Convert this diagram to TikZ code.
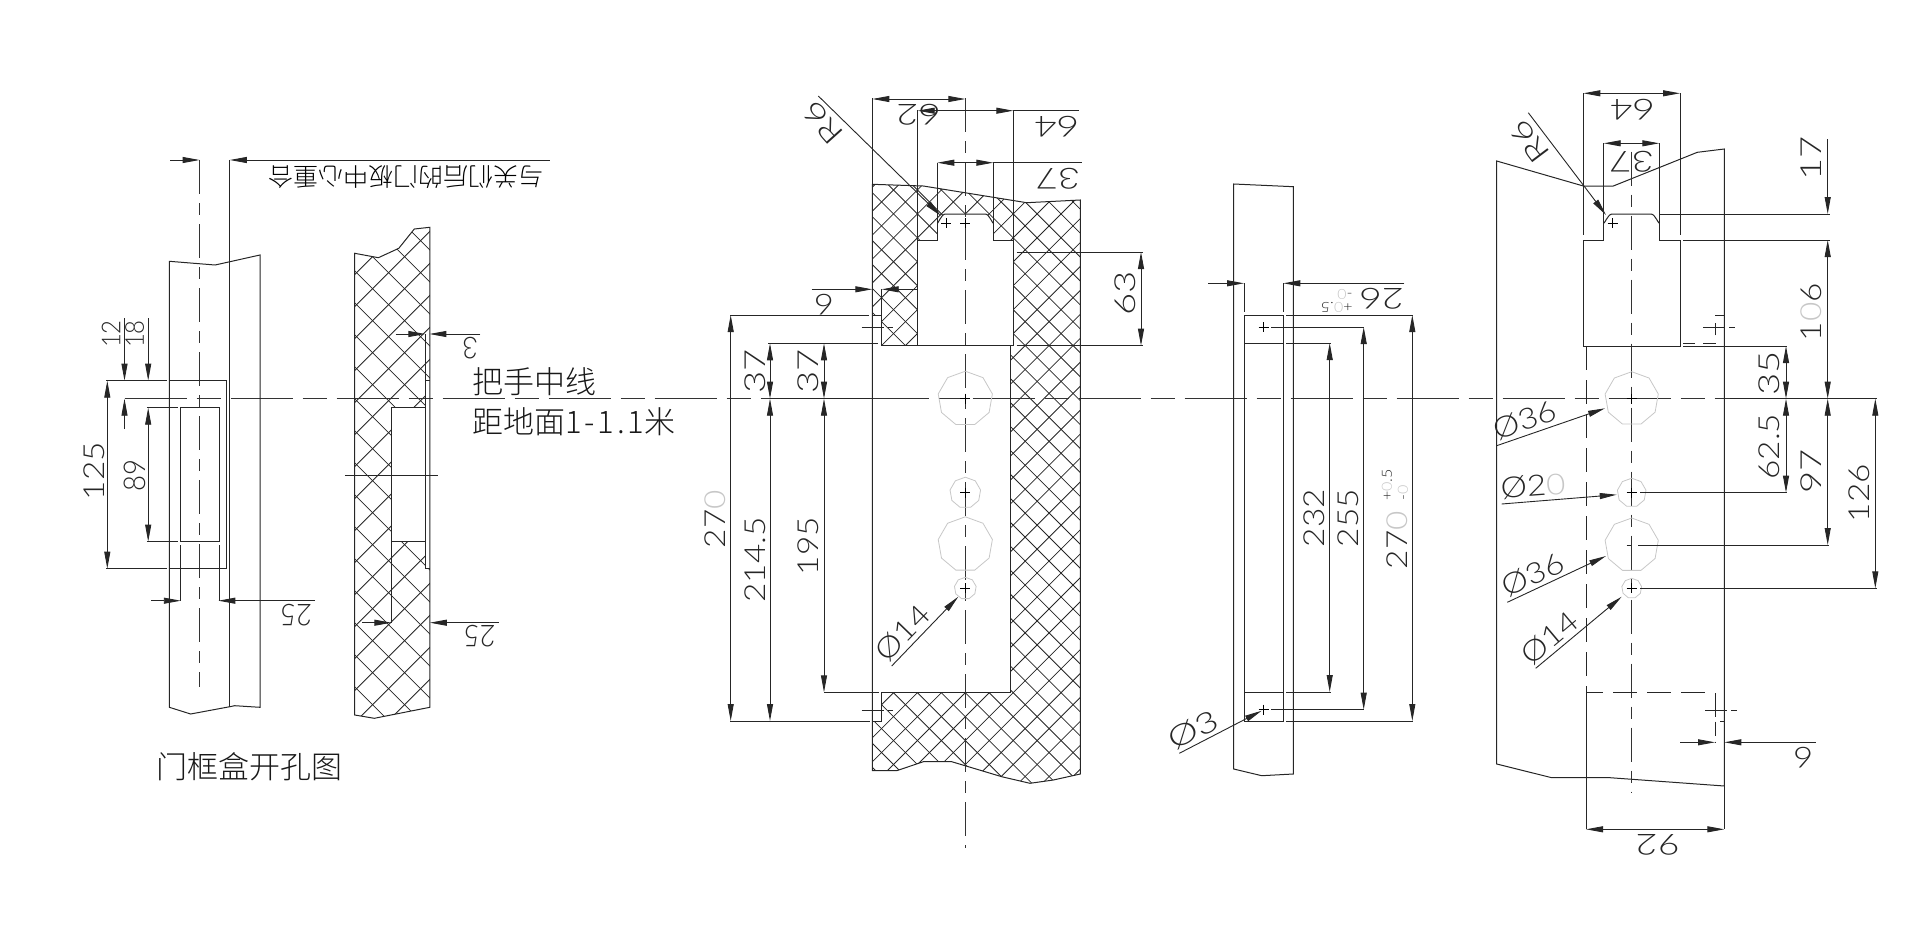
\documentclass[tikz,border=0pt]{standalone}
\usepackage{fontspec}
\usepackage{tikz}
\usetikzlibrary{arrows.meta, shapes.geometric}
\newfontfamily\cadfont[FakeStretch=1.15]{Lato Light}
\newfontfamily\cadwide[FakeStretch=1.32]{Lato Light}
\newfontfamily\cadslim[FakeStretch=0.92]{Lato Light}
\newfontfamily\cjk{Noto Sans CJK SC Light}
\definecolor{ghost}{gray}{0.78}
\tikzset{
  part/.style={line width=1pt, draw=black!85},
  hatchline/.style={line width=0.8pt, draw=black!85},
  axis/.style={line width=1pt, draw=black!80, dash pattern=on 34pt off 9pt on 12pt off 9pt},
  hidden/.style={line width=1pt, draw=black!85, dash pattern=on 24pt off 10pt},
  dimline/.style={line width=0.9pt, draw=black!85},
  dimboth/.style={dimline, {Triangle[length=17pt,width=6pt]}-{Triangle[length=17pt,width=6pt]}},
  dimend/.style={dimline, -{Triangle[length=17pt,width=6pt]}},
  hole/.style={regular polygon, regular polygon sides=9, draw=ghost, line width=0.8pt, inner sep=0pt},
  dimtext/.style={font=\cadfont\fontsize{29}{29}\selectfont, inner sep=0pt, text=black!85},
  dimwide/.style={font=\cadwide\fontsize{29}{29}\selectfont, inner sep=0pt, text=black!85},
  dimslimtext/.style={font=\cadslim\fontsize{30}{30}\selectfont, inner sep=0pt, text=black!85},
  dimsmall/.style={font=\cadfont\fontsize{14}{14}\selectfont, inner sep=0pt, text=black!85},
  note/.style={font=\cjk\fontsize{31}{32}\selectfont, inner sep=0pt, anchor=west, text=black!90},
}
\newcommand{\mk}[2]{\draw[line width=0.9pt] (#1-5,#2) -- (#1+5,#2) (#1,#2-5) -- (#1,#2+5);}
\begin{document}
\begin{tikzpicture}[x=1pt,y=-1pt]
  \useasboundingbox (0,0) rectangle (1920,937);
  % view B hatch
  \begin{scope}
    \clip (354.7,253.3) -- (378.4,257.7) -- (398.8,248.3) -- (414.3,229) -- (429.8,227.3) -- (429.8,707.3) -- (374.3,718.3) -- (354.7,715) -- cycle;
    \foreach \d in {-211.9,-179.9,...,370} \draw[hatchline] (340,{340+(\d)}) -- (440,{440+(\d)});
    \foreach \s in {565.3,597.3,...,1155} \draw[hatchline] (340,{\s-340}) -- (440,{\s-440});
    \fill[white] (391.4,407.7) rectangle (425.3,541.7);
    \fill[white] (425.3,380.7) rectangle (431,568.7);
  \end{scope}
  % view C hatch
  \begin{scope}
    \clip (872.3,184.3) -- (923.3,186) -- (1026.7,202.7) -- (1080.3,200) -- (1080.3,774) -- (1053.3,780) -- (1030,783.3) -- (1001.7,776.7) -- (951.7,761.7) -- (923.3,761.7) -- (896.7,770.7) -- (872.3,770.7) -- cycle;
    \foreach \d in {81.08,105.02,...,900} \draw[hatchline] (800,800-\d) -- (1150,1150-\d);
    \foreach \s in {1035.56,1059.5,...,1870} \draw[hatchline] (800,\s-800) -- (1150,\s-1150);
  \end{scope}
  \fill[white] (872.3,315) -- (881.7,315) -- (881.7,345.7) -- (917.7,345.7) -- (917.7,240) -- (937.3,240) -- (937.3,222) to[out=-90,in=180] (945.3,214) -- (985.3,214) to[out=0,in=-90] (993.3,222) -- (993.3,240) -- (1013.3,240) -- (1013.3,345.7) -- (1010.7,345.7) -- (1010.7,692.3) -- (881.7,692.3) -- (881.7,721) -- (872.3,721) -- cycle;

  % main axis
  \draw[axis, dash pattern=on 62pt off 10pt on 24pt off 10pt] (124.5,398.7) -- (1877,398.7);

  % view A
  \draw[part] (169.4,261.3) -- (215.1,265) -- (260,255) -- (260,707.3) -- (234.7,705.7) -- (229.8,706.7) -- (190.6,714) -- (169.4,707.3) -- cycle;
  \draw[part] (229.8,160) -- (229.8,706.7);
  \draw[axis] (199.6,160) -- (199.6,686.7);
  \draw[part] (169.4,380.7) -- (226.5,380.7) -- (226.5,568.7) -- (169.4,568.7);
  \draw[part] (180.8,600.7) -- (180.8,545);
  \draw[part] (219.2,600.7) -- (219.2,545);
  \draw[part] (180.8,407.7) rectangle (219.2,541.7);
  \draw[dimline] (106.1,380.7) -- (166.9,380.7);
  \draw[dimline] (106.1,568.7) -- (166.9,568.7);
  \draw[dimline] (146.9,407.7) -- (177.6,407.7);
  \draw[dimline] (146.9,541.7) -- (177.6,541.7);
  \draw[dimend] (170.2,160) -- (199.6,160);
  \draw[dimend] (549.8,160) -- (229.8,160);
  \draw[dimboth] (107.3,380.7) -- (107.3,568.7);
  \draw[dimboth] (148.2,407.7) -- (148.2,541.7);
  \draw[dimend] (124.5,318) -- (124.5,380.7);
  \draw[dimend] (148.2,318) -- (148.2,380.7);
  \draw[dimend] (124.5,429) -- (124.5,398.7);
  \draw[dimend] (151,600.7) -- (180.8,600.7);
  \draw[dimend] (315.1,600.7) -- (218.4,600.7);
  \node[dimslimtext, rotate=90] (lblAtwelve) at (111,334) {\fontsize{26}{26}\selectfont 12};
  \node[dimslimtext, rotate=90] (lblAeighteen) at (134.7,334) {\fontsize{26}{26}\selectfont 18};
  \node[dimtext, rotate=90] (lblAoverall) at (94.7,471) {125};
  \node[dimslimtext, rotate=90] (lblAinner) at (134.7,475.7) {89};
  \node[dimslimtext, rotate=180] (lblAwidth) at (296,615) {25};
  \node[font=\cjk\fontsize{25}{26}\selectfont, inner sep=0pt, rotate=180] (lblAcentre) at (405.6,176.7) {与关们后的门板中心重合};
  \node[note] (lblAtitle) at (156,766.7) {门框盒开孔图};

  % view B
  \draw[part] (354.7,253.3) -- (378.4,257.7) -- (398.8,248.3) -- (414.3,229) -- (429.8,227.3) -- (429.8,707.3) -- (374.3,718.3) -- (354.7,715) -- cycle;
  \draw[part] (391.4,407.7) rectangle (425.3,541.7);
  \draw[part] (425.3,334) -- (425.3,568.7) -- (429.8,568.7);
  \draw[part] (425.3,380.7) -- (429.8,380.7);
  \draw[part] (391.4,541.7) -- (391.4,622.7);
  \draw[dimline] (344.9,475) -- (437.6,475);
  \draw[dimend] (395.5,334) -- (425.3,334);
  \draw[dimend] (480.4,334) -- (429.4,334);
  \draw[dimend] (362,622.7) -- (391.4,622.7);
  \draw[dimend] (498.8,622.7) -- (429.8,622.7);
  \node[dimslimtext, rotate=180] (lblBdepth) at (470.2,348) {3};
  \node[dimslimtext, rotate=180] (lblBwidth) at (479.6,636) {25};

  \node[note] (lblAxisA) at (472,381.7) {把手中线};
  \node[note] (lblAxisB) at (472,421.7) {距地面{\addfontfeature{LetterSpace=9}1-1.1}米};

  % view C
  \draw[part] (872.3,184.3) -- (923.3,186) -- (1026.7,202.7) -- (1080.3,200) -- (1080.3,774) -- (1053.3,780) -- (1030,783.3) -- (1001.7,776.7) -- (951.7,761.7) -- (923.3,761.7) -- (896.7,770.7) -- (872.3,770.7) -- cycle;
  \draw[part] (872.3,315) -- (881.7,315) -- (881.7,289.3);
  \draw[part] (881.7,315) -- (881.7,345.7) -- (917.7,345.7) -- (917.7,110);
  \draw[part] (917.7,240) -- (937.3,240) -- (937.3,162.7);
  \draw[part] (937.3,222) to[out=-90,in=180] (945.3,214) -- (985.3,214) to[out=0,in=-90] (993.3,222);
  \draw[part] (993.3,162.7) -- (993.3,240) -- (1013.3,240);
  \draw[part] (1013.3,110) -- (1013.3,345.7) -- (917.7,345.7);
  \draw[part] (1010.7,345.7) -- (1010.7,692.3) -- (881.7,692.3) -- (881.7,721) -- (872.3,721);
  \draw[part] (872.3,98.3) -- (872.3,184.3);
  \draw[axis] (965.3,98.3) -- (965.3,848.3);
  \draw[dimline, dash pattern=on 22pt off 4pt on 6pt off 4pt] (861.7,327.3) -- (893,327.3);
  \draw[dimline, dash pattern=on 22pt off 4pt on 6pt off 4pt] (861.7,710) -- (893,710);
  \node[hole, minimum size=55pt] (holeCa) at (965.3,398.7) {};
  \node[hole, minimum size=31pt] (holeCb) at (965.3,492.7) {};
  \node[hole, minimum size=55pt] (holeCc) at (965.3,544.3) {};
  \node[hole, minimum size=22pt] (holeCd) at (965.3,588.3) {};
  \mk{946}{223.3} \mk{965.3}{223.3} \mk{965.3}{398.7} \mk{965.3}{492.7} \mk{965.3}{588.3}
  \draw[dimboth] (872.3,99) -- (965.3,99);
  \draw[dimboth] (917.7,110.7) -- (1013.3,110.7);
  \draw[dimline] (1013.3,110.7) -- (1079,110.7);
  \draw[dimboth] (937.3,162.7) -- (993.3,162.7);
  \draw[dimline] (993.3,162.7) -- (1082,162.7);
  \draw[dimend] (818.3,96) -- (940.7,215.7);
  \draw[dimend] (811.7,289.3) -- (872.3,289.3);
  \draw[dimend] (916.7,289.3) -- (881.7,289.3);
  \draw[dimline] (730,315) -- (869.3,315);
  \draw[dimline] (768,343.3) -- (878.3,343.3);
  \draw[dimline] (770,398.7) -- (870,398.7);
  \draw[dimline] (730,721) -- (870,721);
  \draw[dimline] (824,692.3) -- (879,692.3);
  \draw[dimline] (1016.7,252) -- (1143,252);
  \draw[dimline] (1016.7,345.7) -- (1143,345.7);
  \draw[dimboth] (730.7,315) -- (730.7,721);
  \draw[dimboth] (770,343.3) -- (770,398.7);
  \draw[dimboth] (770,398.7) -- (770,721);
  \draw[dimboth] (824,343.3) -- (824,398.7);
  \draw[dimboth] (824,398.7) -- (824,692.3);
  \draw[dimboth] (1141,252) -- (1141,345.7);
  \draw[dimend] (891.7,666) -- (958.3,596.7);
  \node[dimwide, rotate=180] (lblCsixtytwo) at (918.3,115) {62};
  \node[dimwide, rotate=180] (lblCsixtyfour) at (1056.7,126.7) {64};
  \node[dimwide, rotate=180] (lblCthirtyseven) at (1058,179) {37};
  \node[dimwide, rotate=132] (lblCradius) at (823,123) {R6};
  \node[dimtext, rotate=180] (lblCnine) at (824,305) {6};
  \node[dimwide, rotate=90] (lblCreveala) at (755,371.7) {37};
  \node[dimwide, rotate=90] (lblCrevealb) at (808,371.7) {37};
  \node[dimtext, rotate=90] (lblCoverall) at (715,519) {27{\color{ghost}0}};
  \node[dimtext, rotate=90] (lblClower) at (755,560) {214.5};
  \node[dimtext, rotate=90] (lblCinner) at (808,546) {195};
  \node[dimwide, rotate=90] (lblCpocket) at (1125,293) {63};
  \node[dimtext, rotate=46] (lblChole) at (903,633) {Ø14};

  % view D
  \draw[part] (1233.7,184) -- (1293.3,186.7) -- (1293.3,774) -- (1261.7,775.7) -- (1233.7,769) -- cycle;
  \draw[part] (1244,283.3) -- (1244,311.7);
  \draw[part] (1283,283.3) -- (1283,311.7);
  \draw[part] (1244,315) rectangle (1283,721);
  \draw[part] (1244,343) -- (1283,343);
  \draw[part] (1244,692) -- (1283,692);
  \mk{1263.7}{327} \mk{1263.7}{709.7}
  \draw[dimline] (1286,315) -- (1413,315);
  \draw[dimline] (1286,343) -- (1330.7,343);
  \draw[dimline] (1271,327) -- (1364,327);
  \draw[dimline] (1271,709.7) -- (1364,709.7);
  \draw[dimline] (1286,692) -- (1330.7,692);
  \draw[dimline] (1286,721) -- (1413,721);
  \draw[dimend] (1208.3,283.3) -- (1244,283.3);
  \draw[dimend] (1404.3,283.3) -- (1283.3,283.3);
  \draw[dimboth] (1329.7,343) -- (1329.7,692);
  \draw[dimboth] (1363.7,327) -- (1363.7,709.7);
  \draw[dimboth] (1412.3,315) -- (1412.3,721);
  \draw[dimend] (1179.3,753.3) -- (1261.7,710.7);
  \node[dimwide, rotate=180] (lblDwidth) at (1381.7,299) {26};
  \node[dimsmall, rotate=180] (lblDtolm) at (1345,294) {-{\color{ghost}0}};
  \node[dimsmall, rotate=180] (lblDtolp) at (1336.7,307) {+{\color{ghost}0}.5};
  \node[dimtext, rotate=90] (lblDshort) at (1314.3,518.3) {232};
  \node[dimtext, rotate=90] (lblDmid) at (1348.3,518) {255};
  \node[dimtext, rotate=90] (lblDlong) at (1397.3,540) {27{\color{ghost}0}};
  \node[dimsmall, rotate=90] (lblDuptolp) at (1387,485) {+{\color{ghost}0}.5};
  \node[dimsmall, rotate=90] (lblDuptolm) at (1403,493) {-{\color{ghost}0}};
  \node[dimwide, rotate=27] (lblDhole) at (1193,730) {Ø3};

  % view E
  \draw[part] (1496.7,161) -- (1583.3,186) -- (1613.3,186) -- (1697.3,152.3) -- (1724.3,149) -- (1724.3,786) -- (1610,777.7) -- (1551.7,777.7) -- (1496.7,764) -- cycle;
  \draw[part] (1583.3,93.3) -- (1583.3,235);
  \draw[part] (1680,93.3) -- (1680,235);
  \draw[part] (1603.7,143.3) -- (1603.7,240) -- (1583.3,240) -- (1583.3,346) -- (1680,346) -- (1680,240) -- (1659.3,240) -- (1659.3,143.3);
  \draw[part] (1603.7,222) to[out=-90,in=180] (1612,214) -- (1651,214) to[out=0,in=-90] (1659.3,222);
  \draw[part] (1586,692.7) -- (1586,829.3);
  \draw[part] (1724.3,786) -- (1724.3,829.3);
  \draw[axis] (1631.7,151.7) -- (1631.7,793);
  \draw[hidden] (1586,346) -- (1586,692.7) -- (1715,692.7) -- (1715,721.7) -- (1724.3,721.7);
  \draw[hidden, dash pattern=on 14pt off 6pt] (1715,721.7) -- (1715,742.3);
  \draw[hidden, dash pattern=on 12pt off 8pt] (1683,343.3) -- (1715,343.3) -- (1715,315) -- (1724.3,315);
  \draw[dimline, dash pattern=on 22pt off 4pt on 6pt off 4pt] (1703.3,327.3) -- (1736,327.3);
  \draw[dimline, dash pattern=on 22pt off 4pt on 6pt off 4pt] (1705,710) -- (1736.7,710);
  \node[hole, minimum size=54pt] (holeEa) at (1631.7,398.7) {};
  \node[hole, minimum size=29pt] (holeEb) at (1631.7,492.7) {};
  \node[hole, minimum size=54pt] (holeEc) at (1631.7,545) {};
  \node[hole, minimum size=20pt] (holeEd) at (1631.7,588.3) {};
  \mk{1612.7}{223.3} \mk{1631.7}{398.7} \mk{1631.7}{492.7} \mk{1631.7}{588.3}
  \draw[dimline] (1683.3,240) -- (1830,240);
  \draw[dimline] (1659.3,214) -- (1830,214);
  \draw[dimline] (1683.3,346) -- (1786.7,346);
  \draw[dimline] (1730,398.7) -- (1877,398.7);
  \draw[dimline] (1640,492.7) -- (1786.7,492.7);
  \draw[dimline] (1626.7,545) -- (1631,545);
  \draw[dimline] (1638,545) -- (1829,545);
  \draw[dimline] (1640,588.3) -- (1876.7,588.3);
  \draw[dimboth] (1583.3,93.3) -- (1680,93.3);
  \draw[dimboth] (1603.7,143.3) -- (1659.3,143.3);
  \draw[dimboth] (1586,829.3) -- (1724.3,829.3);
  \draw[dimend] (1680,742.3) -- (1715,742.3);
  \draw[dimend] (1815.7,742.3) -- (1724.3,742.3);
  \draw[dimend] (1827.7,139.3) -- (1827.7,214);
  \draw[dimboth] (1827.7,240) -- (1827.7,398.7);
  \draw[dimboth] (1786,346) -- (1786,398.7);
  \draw[dimboth] (1786,398.7) -- (1786,492.7);
  \draw[dimboth] (1827.7,398.7) -- (1827.7,545);
  \draw[dimboth] (1875.3,398.7) -- (1875.3,588.3);
  \draw[dimend] (1528.3,112.7) -- (1606,215);
  \draw[dimend] (1496.7,445.7) -- (1605,408.3);
  \draw[dimend] (1501.7,504) -- (1616.7,494.7);
  \draw[dimend] (1507.3,602.3) -- (1606,556);
  \draw[dimend] (1535.7,668.3) -- (1621.7,596.7);
  \node[dimwide, rotate=180] (lblEtop) at (1632.3,110) {64};
  \node[dimwide, rotate=180] (lblEneck) at (1631.7,161.7) {37};
  \node[dimwide, rotate=127] (lblEradius) at (1530,141.7) {R6};
  \node[dimwide, rotate=90] (lblEseventeen) at (1811,158.3) {17};
  \node[dimtext, rotate=90] (lblEpocket) at (1811,312.3) {1{\color{ghost}0}6};
  \node[dimwide, rotate=90] (lblEreveal) at (1769.3,373.3) {35};
  \node[dimtext, rotate=90] (lblEfirst) at (1769.3,446.7) {62.5};
  \node[dimwide, rotate=90] (lblEsecond) at (1811,471.7) {97};
  \node[dimtext, rotate=90] (lblEthird) at (1859.3,493.3) {126};
  \node[dimtext, rotate=19] (lblEholea) at (1525,420) {Ø36};
  \node[dimtext, rotate=4] (lblEholeb) at (1533,486) {Ø2{\color{ghost}0}};
  \node[dimtext, rotate=25] (lblEholec) at (1533,575) {Ø36};
  \node[dimtext, rotate=40] (lblEholed) at (1550,638) {Ø14};
  \node[dimtext, rotate=180] (lblEnine) at (1803.3,757.3) {6};
  \node[dimwide, rotate=180] (lblEwidth) at (1657.7,845) {92};
\end{tikzpicture}
\end{document}
